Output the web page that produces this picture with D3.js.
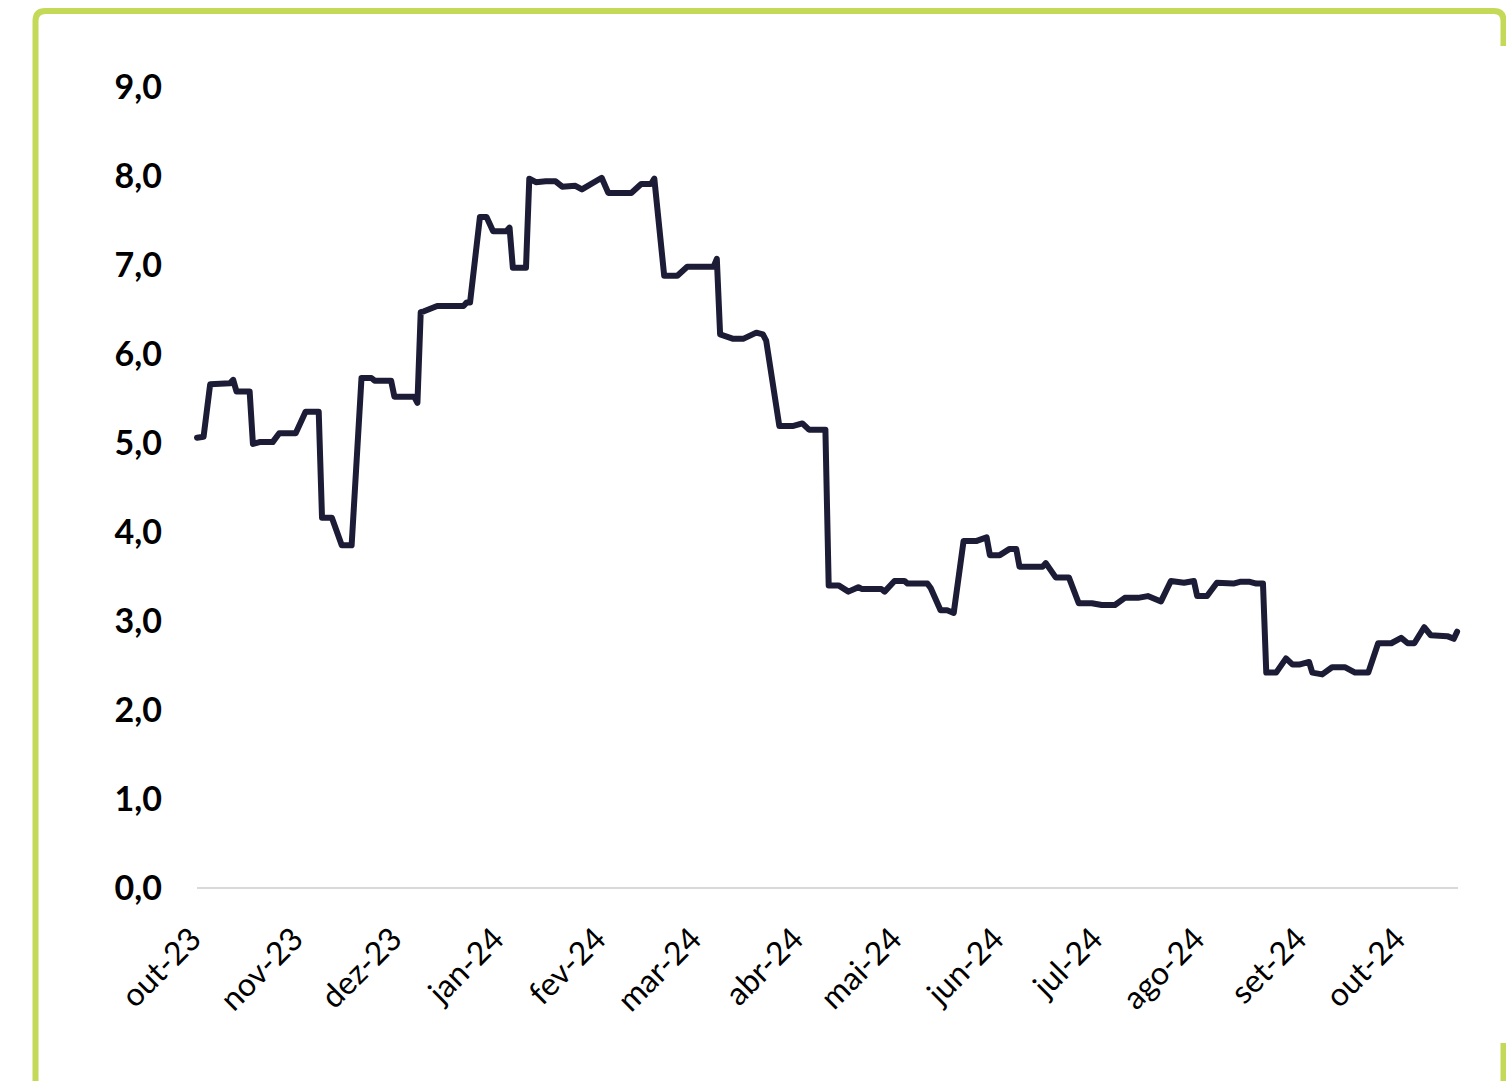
<!DOCTYPE html>
<html lang="pt">
<head>
<meta charset="utf-8">
<title>Série diária</title>
<script src="https://cdn.jsdelivr.net/npm/d3@7"></script>
<style>
  html, body { margin: 0; padding: 0; background: #ffffff; }
  svg { display: block; }
</style>
</head>
<body>
<svg id="chart" width="1506" height="1081"></svg>
<script>
// Observações (data, valor em %)
const dates = [
  "2023-10-02","2023-10-04","2023-10-06","2023-10-12","2023-10-13","2023-10-14","2023-10-18","2023-10-19",
  "2023-10-21","2023-10-25","2023-10-27","2023-11-01","2023-11-04","2023-11-08","2023-11-09","2023-11-12",
  "2023-11-15","2023-11-18","2023-11-21","2023-11-24","2023-11-25","2023-11-30","2023-12-01","2023-12-07",
  "2023-12-08","2023-12-09","2023-12-10","2023-12-14","2023-12-22","2023-12-23","2023-12-24","2023-12-27",
  "2023-12-29","2023-12-31","2024-01-04","2024-01-05","2024-01-06","2024-01-10","2024-01-11","2024-01-13",
  "2024-01-16","2024-01-19","2024-01-21","2024-01-25","2024-01-27","2024-02-02","2024-02-04","2024-02-11",
  "2024-02-14","2024-02-17","2024-02-18","2024-02-21","2024-02-25","2024-02-28","2024-03-07","2024-03-08",
  "2024-03-09","2024-03-13","2024-03-16","2024-03-20","2024-03-22","2024-03-23","2024-03-27","2024-03-31",
  "2024-04-03","2024-04-05","2024-04-10","2024-04-11","2024-04-14","2024-04-17","2024-04-20","2024-04-21",
  "2024-04-27","2024-04-28","2024-05-01","2024-05-04","2024-05-05","2024-05-11","2024-05-12","2024-05-15",
  "2024-05-17","2024-05-19","2024-05-22","2024-05-26","2024-05-29","2024-05-30","2024-06-02","2024-06-05",
  "2024-06-07","2024-06-08","2024-06-15","2024-06-16","2024-06-19","2024-06-23","2024-06-26","2024-06-30",
  "2024-07-03","2024-07-07","2024-07-10","2024-07-14","2024-07-17","2024-07-21","2024-07-24","2024-07-28",
  "2024-07-31","2024-08-01","2024-08-04","2024-08-07","2024-08-12","2024-08-14","2024-08-17","2024-08-19",
  "2024-08-21","2024-08-22","2024-08-25","2024-08-28","2024-08-30","2024-09-01","2024-09-04","2024-09-05",
  "2024-09-08","2024-09-11","2024-09-15","2024-09-18","2024-09-22","2024-09-25","2024-09-29","2024-10-02",
  "2024-10-04","2024-10-06","2024-10-09","2024-10-11","2024-10-16","2024-10-18","2024-10-19"
];
const values = [
  5.06, 5.07, 5.66, 5.67, 5.71, 5.58, 5.58, 4.99,
  5.01, 5.01, 5.11, 5.11, 5.35, 5.35, 4.16, 4.16,
  3.85, 3.85, 5.73, 5.73, 5.70, 5.70, 5.52, 5.52,
  5.45, 6.47, 6.48, 6.54, 6.54, 6.58, 6.58, 7.54,
  7.54, 7.38, 7.38, 7.42, 6.97, 6.97, 7.97, 7.93,
  7.94, 7.94, 7.88, 7.89, 7.85, 7.98, 7.81, 7.81,
  7.91, 7.91, 7.97, 6.88, 6.88, 6.98, 6.98, 7.07,
  6.22, 6.17, 6.17, 6.24, 6.22, 6.15, 5.19, 5.19,
  5.22, 5.15, 5.15, 3.40, 3.40, 3.33, 3.38, 3.36,
  3.36, 3.33, 3.45, 3.45, 3.42, 3.42, 3.37, 3.12,
  3.12, 3.09, 3.90, 3.90, 3.94, 3.74, 3.74, 3.81,
  3.81, 3.61, 3.61, 3.65, 3.49, 3.49, 3.20, 3.20,
  3.18, 3.18, 3.26, 3.26, 3.28, 3.22, 3.45, 3.43,
  3.45, 3.28, 3.28, 3.43, 3.42, 3.44, 3.44, 3.42,
  3.42, 2.42, 2.42, 2.58, 2.51, 2.51, 2.54, 2.42,
  2.40, 2.48, 2.48, 2.42, 2.42, 2.75, 2.75, 2.81,
  2.75, 2.75, 2.93, 2.84, 2.83, 2.80, 2.88
];

// Eixo Y: 0,0 a 9,0
const yTicks = [0, 1, 2, 3, 4, 5, 6, 7, 8, 9];
// Rótulos de mês do eixo X
const monthNames = ["jan","fev","mar","abr","mai","jun","jul","ago","set","out","nov","dez"];
const axisStart = "2023-10-01";
const axisEnd = "2024-10-19";

const parse = d3.utcParse("%Y-%m-%d");
const data = dates.map((d, i) => ({ date: parse(d), value: values[i] }));

const ptNum = d3.formatLocale({ decimal: ",", thousands: ".", grouping: [3], currency: ["R$", ""] });
const fmtY = ptNum.format(".1f");
const ptTime = d3.timeFormatLocale({
  dateTime: "%d/%m/%Y %H:%M:%S", date: "%d/%m/%Y", time: "%H:%M:%S",
  periods: ["AM", "PM"],
  days: ["domingo","segunda","terça","quarta","quinta","sexta","sábado"],
  shortDays: ["dom","seg","ter","qua","qui","sex","sáb"],
  months: ["janeiro","fevereiro","março","abril","maio","junho","julho","agosto","setembro","outubro","novembro","dezembro"],
  shortMonths: monthNames
});
const fmtX = ptTime.utcFormat("%b-%y");

const svg = d3.select("#chart");

// Moldura verde arredondada
const frame = svg.append("g")
  .attr("fill", "none")
  .attr("stroke", "#C4D958")
  .attr("stroke-width", 6);
frame.append("path")
  .attr("d", "M35.5,1081 V21 Q35.5,11 45.5,11 H1494 Q1503.5,11 1503.5,21 V46");
frame.append("path")
  .attr("d", "M1503.5,1043 V1081");

const x = d3.scaleUtc()
  .domain([parse(axisStart), parse(axisEnd)])
  .range([193.7, 1457.1]);

const y = d3.scaleLinear()
  .domain([0, 9])
  .range([888, 87]);

// Linha de base em 0,0
svg.append("line")
  .attr("x1", x(data[0].date))
  .attr("x2", x(data[data.length - 1].date) + 1)
  .attr("y1", y(0))
  .attr("y2", y(0))
  .attr("stroke", "#D9D9D9")
  .attr("stroke-width", 2);

// Eixo Y
const yAxis = svg.append("g")
  .attr("transform", `translate(${x(data[0].date)},0)`)
  .call(d3.axisLeft(y).tickValues(yTicks).tickFormat(fmtY).tickSize(0).tickPadding(35));
yAxis.select(".domain").remove();
yAxis.selectAll("text")
  .attr("dy", "0.35em")
  .style("font-family", "Lato, 'Open Sans', sans-serif")
  .style("font-weight", "700")
  .style("font-size", "34px")
  .style("fill", "#000");

// Eixo X com rótulos mensais inclinados
const monthTicks = d3.utcMonth.range(parse("2023-10-01"), parse("2024-10-02"));
const xAxis = svg.append("g")
  .attr("transform", `translate(0,${y(0)})`)
  .call(d3.axisBottom(x).tickValues(monthTicks).tickFormat(fmtX).tickSize(0));
xAxis.select(".domain").remove();
xAxis.selectAll("text")
  .attr("x", 0)
  .attr("y", 0)
  .attr("dy", 0)
  .attr("transform", "translate(9,53) rotate(-45)")
  .style("text-anchor", "end")
  .style("font-family", "Lato, 'Open Sans', sans-serif")
  .style("font-weight", "400")
  .style("font-size", "32px")
  .style("fill", "#000");

// Série
const line = d3.line()
  .x(d => x(d.date))
  .y(d => y(d.value));

svg.append("path")
  .datum(data)
  .attr("d", line)
  .attr("fill", "none")
  .attr("stroke", "#1C1C36")
  .attr("stroke-width", 6)
  .attr("stroke-linejoin", "round")
  .attr("stroke-linecap", "round");
</script>
</body>
</html>
